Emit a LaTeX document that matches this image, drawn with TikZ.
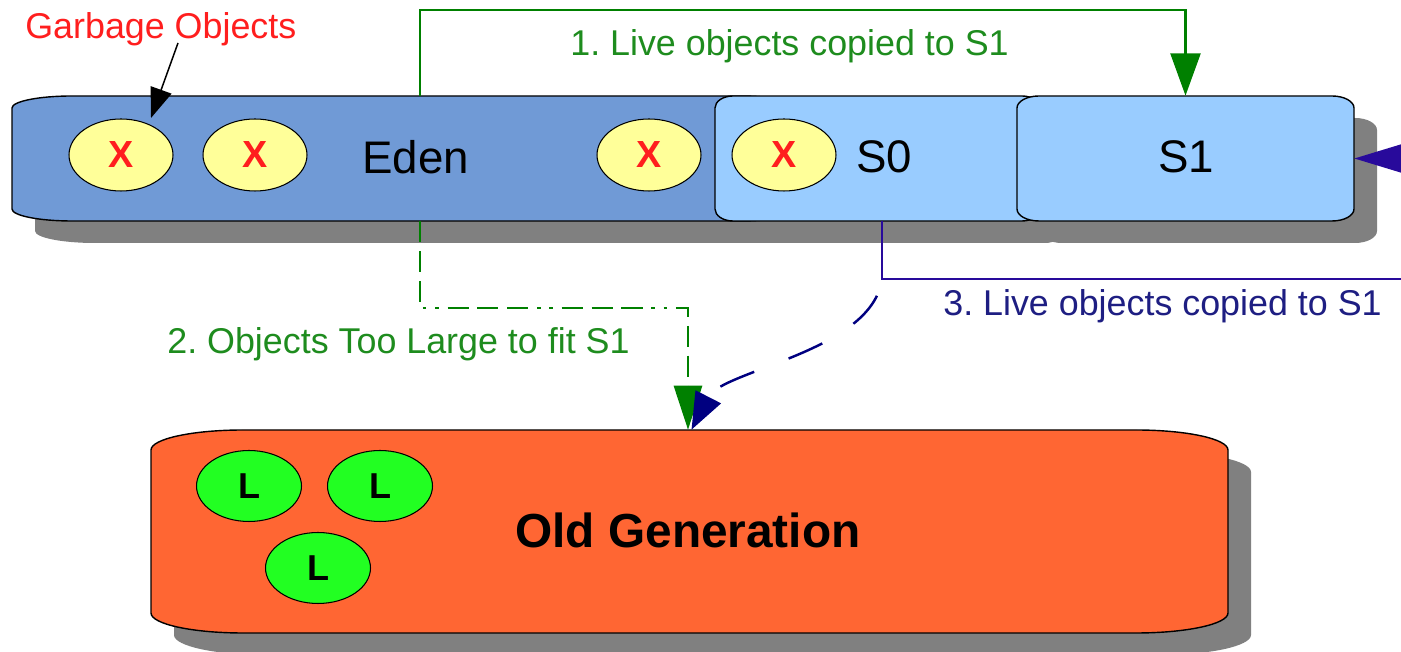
\documentclass[tikz,border=0pt]{standalone}
\usepackage{fontspec}
\setmainfont{Liberation Sans}
\usetikzlibrary{arrows.meta,shapes.geometric,calc}
\definecolor{edenblue}{RGB}{112,154,214}
\definecolor{survblue}{RGB}{153,204,255}
\definecolor{shadowgray}{RGB}{128,128,128}
\definecolor{oldorange}{RGB}{255,102,51}
\definecolor{garbyellow}{RGB}{255,255,153}
\definecolor{livegreen}{RGB}{34,255,34}
\definecolor{linegreen}{RGB}{0,128,0}
\definecolor{textgreen}{RGB}{30,140,30}
\definecolor{linepurple}{RGB}{40,10,155}
\definecolor{textnavy}{RGB}{30,30,130}
\definecolor{navyblue}{RGB}{0,0,128}
\definecolor{garbred}{RGB}{255,30,30}
% #1 style, #2 x1, #3 y bottom, #4 x2, #5 y top, #6 rx, #7 ry
\newcommand{\rbox}[7]{%
  \path[#1] ({#2+#6},#5) -- ({#4-#6},#5)
    arc[start angle=90,end angle=0,x radius=#6,y radius=#7] -- (#4,{#3+#7})
    arc[start angle=0,end angle=-90,x radius=#6,y radius=#7] -- ({#2+#6},#3)
    arc[start angle=270,end angle=180,x radius=#6,y radius=#7] -- (#2,{#5-#7})
    arc[start angle=180,end angle=90,x radius=#6,y radius=#7] -- cycle;}
\tikzset{
  boxnode/.style={rectangle, inner sep=0pt, minimum height=2.5cm},
  garb/.style={ellipse, draw=black, line width=0.6pt, fill=garbyellow,
    minimum width=2.08cm, minimum height=1.44cm, inner sep=0pt, text=garbred,
    font=\bfseries\fontsize{21.5}{24}\selectfont},
  live/.style={ellipse, draw=black, line width=0.6pt, fill=livegreen,
    minimum width=2.1cm, minimum height=1.42cm, inner sep=0pt,
    font=\bfseries\fontsize{20.5}{24}\selectfont},
  lbl/.style={inner sep=0pt, anchor=base west, font=\fontsize{20.4}{24}\selectfont\frenchspacing},
  biglbl/.style={inner sep=0pt, anchor=base west, font=\fontsize{26}{30}\selectfont},
  greenarrow/.style={draw=linegreen, line width=1.4pt,
    -{Triangle[length=24pt,width=17pt]}},
  greendash/.style={draw=linegreen, line width=1.4pt,
    dash pattern=on 12pt off 5pt on 12pt off 5pt on 12pt off 5pt on 2pt off 5pt on 2pt off 5pt,
    -{Triangle[length=25pt,width=16pt]}},
  purplearrow/.style={draw=linepurple, line width=1.4pt,
    -{Triangle[length=27pt,width=16pt]}},
  navydash/.style={draw=navyblue, line width=1.4pt,
    dash pattern=on 21pt off 21pt, dash phase=32pt,
    -{Triangle[length=21pt,width=16pt]}},
  garbarrow/.style={draw=black, line width=0.85pt,
    -{Triangle[length=17pt,width=12.5pt]}}
}
\begin{document}
\begin{tikzpicture}[x=0.02cm,y=0.02cm]
\useasboundingbox (0,0) rectangle (1401,652);
\clip (0,0) rectangle (1401,652);
% shadows
\begin{scope}[shift={(23,-22)}]
  \rbox{fill=shadowgray}{12}{431}{800}{556}{60}{12}
  \rbox{fill=shadowgray}{715}{431}{1040}{556}{18}{12}
  \rbox{fill=shadowgray}{1017}{431}{1354}{556}{22}{12}
  \rbox{fill=shadowgray}{151}{19}{1228}{222}{92}{20}
\end{scope}
% boxes
\rbox{fill=edenblue,draw=black,line width=0.8pt}{12}{431}{800}{556}{60}{12}
\rbox{fill=survblue,draw=black,line width=0.8pt}{715}{431}{1040}{556}{18}{12}
\rbox{fill=survblue,draw=black,line width=0.8pt}{1017}{431}{1354}{556}{22}{12}
\rbox{fill=oldorange,draw=black,line width=0.8pt}{151}{19}{1228}{222}{92}{20}
% anchor nodes for the boxes
\node[boxnode, minimum width=15.76cm] (eden) at (406,493.5) {};
\node[boxnode, minimum width=6.5cm] (s0) at (877.5,493.5) {};
\node[boxnode, minimum width=6.74cm] (s1) at (1185.5,493.5) {};
\node[rectangle, inner sep=0pt, minimum width=21.54cm, minimum height=4.06cm] (old) at (689.5,120.5) {};
% box labels
\node[biglbl] (edenlbl) at (362,478) {Eden};
\node[biglbl] (s0lbl) at (856,479) {S0};
\node[biglbl] (s1lbl) at (1158,479) {S1};
\node[inner sep=0pt, font=\bfseries\fontsize{27.2}{32}\selectfont] (oldlbl) at (688,122) {Old Generation};
% garbage objects
\node[garb] (e1) at (121,497) {X};
\node[garb] (e2) at (255,497) {X};
\node[garb] (e3) at (649,497) {X};
\node[garb] (e4) at (784,497) {X};
% live objects
\node[live] (l1) at (249,166) {L};
\node[live] (l2) at (380,166) {L};
\node[live] (l3) at (318,84) {L};
% text labels
\node[lbl, text=garbred] (glbl) at (25,613) {Garbage Objects};
\node[lbl, text=textgreen] (lbl1) at (570,596) {1. Live objects copied to S1};
\node[lbl, text=textgreen] (lbl2) at (167,298) {2. Objects Too Large to fit S1};
\node[lbl, text=textnavy] (lbl3) at (943,336) {3. Live objects copied to S1};
% helper coordinates
\coordinate (gtail) at (178,609);
\coordinate (gtip) at (151,534);
\coordinate (g1) at (420,642);
\coordinate (g2) at (688,344);
\coordinate (b3) at (882,373);
\coordinate (b3r) at (1440,373);
% connectors
\draw[garbarrow] (gtail) -- (gtip);
\draw[greenarrow] (eden.north -| g1) |- (s1.north |- g1) -- (s1.north);
\draw[greendash] (eden.south -| g1) |- (g2) -- (g2 |- old.north);
\draw[purplearrow] (s0.south -| b3) -- (b3) -- (b3r) |- (s1.east);
\draw[navydash] (b3) .. controls (872,300) and (722,282) .. ([xshift=2]g2 |- old.north);
\end{tikzpicture}
\end{document}
